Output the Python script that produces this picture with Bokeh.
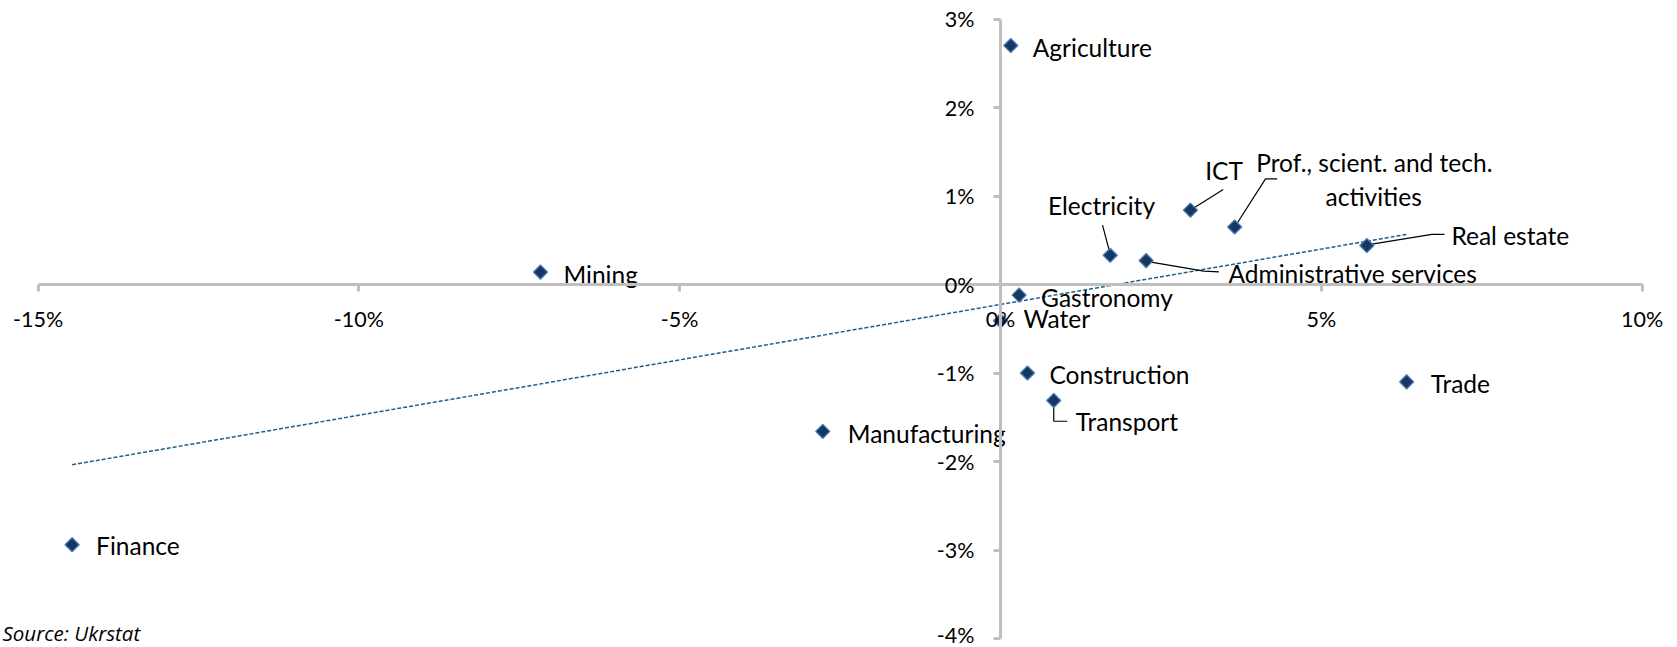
import numpy as np
from bokeh.plotting import figure
from bokeh.models import LinearAxis, FixedTicker, ColumnDataSource, Label
from bokeh.core.properties import value
from bokeh.embed import file_html
from bokeh.resources import INLINE

# ---------------- data ----------------
sectors = ["Agriculture", "ICT", "Prof., scient. and tech. activities", "Electricity",
           "Administrative services", "Real estate", "Mining", "Gastronomy", "Water",
           "Construction", "Transport", "Trade", "Manufacturing", "Finance"]
x_growth = [0.16, 2.96, 3.65, 1.71, 2.27, 5.71, -7.17, 0.29, 0.00, 0.42, 0.83, 6.33, -2.77, -14.47]
y_growth = [2.70, 0.84, 0.65, 0.33, 0.27, 0.44, 0.14, -0.12, -0.41, -1.00, -1.31, -1.10, -1.66, -2.94]

x_ticks = [-15, -10, -5, 0, 5, 10]
x_tick_labels = ["-15%", "-10%", "-5%", "0%", "5%", "10%"]
y_ticks = [-4, -3, -2, -1, 0, 1, 2, 3]
y_tick_labels = ["-4%", "-3%", "-2%", "-1%", "0%", "1%", "2%", "3%"]
source_note = "Source: Ukrstat"

# ---------------- layout / style ----------------
W, H = 1677, 647
X_MIN, X_MAX = -15, 10
Y_MIN, Y_MAX = -4, 3
# pixel box of the plot area inside the canvas
AREA_L, AREA_R, AREA_T, AREA_B = 37.6, 1641.6, 18.5, 638.0
px_x = (X_MAX - X_MIN) / (AREA_R - AREA_L)   # data units per pixel
px_y = (Y_MAX - Y_MIN) / (AREA_B - AREA_T)
x_range = (X_MIN - AREA_L * px_x, X_MAX + (W - AREA_R) * px_x)
y_range = (Y_MIN - (H - AREA_B) * px_y, Y_MAX + AREA_T * px_y)

LABEL_FONT = "Lato"
LABEL_SIZE = "24.5px"
TICK_SIZE = "21.5px"
AXIS_COLOR = "#BFBFBF"

# label placement: sector -> list of (text line, dx px, dy px (down), align)
label_layout = {
    "Agriculture": [("Agriculture", 22, 1.5, "left")],
    "ICT": [("ICT", 33.6, -40, "center")],
    "Prof., scient. and tech. activities": [("Prof., scient. and tech.", 139.6, -64.3, "center"),
                                            ("activities", 139.0, -30.1, "center")],
    "Electricity": [("Electricity", -8.7, -50, "center")],
    "Administrative services": [("Administrative services", 82.4, 13.3, "left")],
    "Real estate": [("Real estate", 84.6, -10.4, "left")],
    "Mining": [("Mining", 23, 2, "left")],
    "Gastronomy": [("Gastronomy", 22, 2, "left")],
    "Water": [("Water", 23, -2, "left")],
    "Construction": [("Construction", 22, 1, "left")],
    "Transport": [("Transport", 22, 21, "left")],
    "Trade": [("Trade", 24, 2, "left")],
    "Manufacturing": [("Manufacturing", 25, 2, "left")],
    "Finance": [("Finance", 24, 1, "left")],
}

# leader lines: sector -> polyline of pixel offsets from the point (y down)
leaders = {
    "ICT": [(3, -2), (32.8, -20.7)],
    "Prof., scient. and tech. activities": [(2, -3), (30.8, -48.1), (42.5, -48.1)],
    "Electricity": [(-7.7, -30.1), (-1, -5)],
    "Administrative services": [(2, 1), (57.7, 10.6), (72.7, 11.3)],
    "Real estate": [(2, -1), (65.1, -11.1), (77.6, -11.1)],
    "Transport": [(0, 2), (0, 20.8), (13.4, 20.8)],
}

p = figure(width=W, height=H, x_range=x_range, y_range=y_range,
           output_backend="svg", toolbar_location=None,
           x_axis_location=None, y_axis_location=None,
           min_border_left=0, min_border_right=0, min_border_top=0, min_border_bottom=0)
p.outline_line_color = None
p.background_fill_color = "white"
p.border_fill_color = "white"
for g in p.grid:
    g.visible = False


def style_axis(ax, ticks, labels, standoff, bounds):
    ax.ticker = FixedTicker(ticks=ticks)
    ax.major_label_overrides = {t: l for t, l in zip(ticks, labels)}
    ax.fixed_location = 0
    ax.bounds = bounds
    ax.axis_line_color = AXIS_COLOR
    ax.axis_line_width = 3
    ax.major_tick_line_color = AXIS_COLOR
    ax.major_tick_line_width = 3
    ax.major_tick_in = 0
    ax.major_tick_out = 7
    ax.minor_tick_line_color = None
    ax.major_label_text_font = LABEL_FONT
    ax.major_label_text_font_size = TICK_SIZE
    ax.major_label_text_color = "#000000"
    ax.major_label_standoff = standoff


xaxis = LinearAxis()
style_axis(xaxis, x_ticks, x_tick_labels, 14, (X_MIN, X_MAX))
p.add_layout(xaxis, "below")
yaxis = LinearAxis()
style_axis(yaxis, y_ticks, y_tick_labels, 19, (Y_MIN, Y_MAX))
p.add_layout(yaxis, "left")

# trend line (least squares through the points)
slope, intercept = np.polyfit(x_growth, y_growth, 1)
xt = [min(x_growth), max(x_growth)]
yt = [slope * v + intercept for v in xt]
p.line(xt, yt, line_color="#1F5F8B", line_width=1.5, line_dash="4 2")

# leader lines
lx, ly = [], []
for name, pts in leaders.items():
    i = sectors.index(name)
    lx.append([x_growth[i] + dx * px_x for dx, dy in pts])
    ly.append([y_growth[i] - dy * px_y for dx, dy in pts])
p.multi_line(lx, ly, line_color="#000000", line_width=1.2)

# markers
src = ColumnDataSource(dict(x=x_growth, y=y_growth, name=sectors))
p.scatter("x", "y", source=src, marker="square", size=10, angle=np.pi / 4,
          fill_color="#17375E", line_color="#4A7EBB", line_width=1.3)

# data labels
tx, ty, tt, tdx, tdy, tal = [], [], [], [], [], []
for name in sectors:
    i = sectors.index(name)
    for line, dx, dy, al in label_layout[name]:
        tx.append(x_growth[i]); ty.append(y_growth[i]); tt.append(line)
        tdx.append(dx); tdy.append(dy); tal.append(al)
lsrc = ColumnDataSource(dict(x=tx, y=ty, text=tt, dx=tdx, dy=tdy, align=tal))
p.text("x", "y", text="text", source=lsrc, x_offset="dx", y_offset="dy",
       text_align="align", text_baseline="middle",
       text_font=value(LABEL_FONT), text_font_size=LABEL_SIZE, text_color="#000000")

# source note
p.add_layout(Label(x=X_MIN, y=Y_MIN, x_offset=-(AREA_L - 2), y_offset=6, text=source_note,
                   text_font="Open Sans", text_font_style="italic",
                   text_font_size="20.5px", text_baseline="middle", text_color="#000000"))

open("out.html", "w").write(file_html(p, INLINE))
